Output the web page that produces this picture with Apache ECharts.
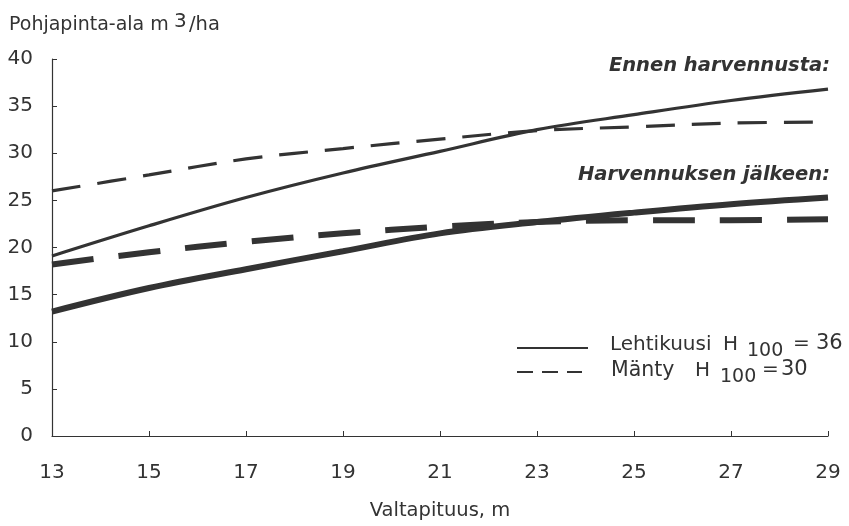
<!DOCTYPE html>
<html>
<head>
<meta charset="utf-8">
<style>
  html, body { margin: 0; padding: 0; background: #fff; }
  #chart { width: 849px; height: 526px; }
</style>
<script src="https://cdn.jsdelivr.net/npm/echarts@6/dist/echarts.min.js"></script>
</head>
<body>
<div id="chart"></div>
<script>
// Dominant height (m) on the x axis
const heights = [13, 15, 17, 19, 21, 23, 25, 27, 29];

// Basal area before thinning
const larchBefore = [19.1, 22.3, 25.3, 27.9, 30.2, 32.5, 34.1, 35.6, 36.8];
const pineBefore  = [26.0, 27.7, 29.4, 30.5, 31.5, 32.4, 32.8, 33.2, 33.3];

// Basal area after thinning
const larchAfter = [13.2, 15.7, 17.7, 19.6, 21.5, 22.7, 23.7, 24.6, 25.3];
const pineAfter  = [18.2, 19.5, 20.6, 21.5, 22.2, 22.7, 22.9, 22.9, 23.0];

const yTicks = [0, 5, 10, 15, 20, 25, 30, 35, 40];

const ink = '#333';
const fontFamily = '"DejaVu Sans", Verdana, sans-serif';

function pairs(ys) {
  return heights.map((x, i) => [x, ys[i]]);
}

function line(name, ys, width, dash) {
  return {
    name: name,
    type: 'line',
    data: pairs(ys),
    smooth: 0.35,
    symbol: 'none',
    lineStyle: {
      color: ink,
      width: width,
      type: dash ? dash : 'solid',
      cap: 'butt'
    },
    z: 3
  };
}

// Text placed by its left (or right) edge and vertical centre
function label(text, x, y, size, extra) {
  return {
    type: 'text',
    x: x,
    y: y,
    style: Object.assign({
      text: text,
      fill: ink,
      fontFamily: fontFamily,
      fontSize: size,
      align: 'left',
      verticalAlign: 'middle'
    }, extra || {})
  };
}

const chart = echarts.init(document.getElementById('chart'), null, { renderer: 'canvas' });

const heading = { fontWeight: 'bold', fontStyle: 'italic', align: 'right' };

chart.setOption({
  backgroundColor: '#fff',
  animation: false,
  grid: { left: 52, right: 21, top: 59, bottom: 88, containLabel: false },
  xAxis: {
    type: 'value',
    min: 13,
    max: 29,
    interval: 2,
    name: 'Valtapituus, m',
    nameLocation: 'middle',
    nameGap: 65,
    nameTextStyle: { color: ink, fontSize: 19.5, fontFamily: fontFamily },
    axisLine: { show: true, lineStyle: { color: ink, width: 1.2 } },
    axisTick: { show: true, inside: true, length: 5, lineStyle: { color: ink } },
    axisLabel: { color: ink, fontSize: 20, fontFamily: fontFamily, margin: 27 },
    splitLine: { show: false }
  },
  yAxis: {
    type: 'value',
    min: yTicks[0],
    max: yTicks[yTicks.length - 1],
    interval: 5,
    axisLine: { show: true, lineStyle: { color: ink, width: 1.2 } },
    axisTick: { show: true, inside: true, length: 5, lineStyle: { color: ink } },
    axisLabel: { color: ink, fontSize: 20, fontFamily: fontFamily, margin: 19 },
    splitLine: { show: false }
  },
  series: [
    line('Lehtikuusi ennen', larchBefore, 3.2),
    line('Mänty ennen', pineBefore, 3.2, [29, 17]),
    line('Lehtikuusi jälkeen', larchAfter, 6),
    line('Mänty jälkeen', pineAfter, 6, [42, 25])
  ],
  graphic: [
    // y-axis title with superscript
    label('Pohjapinta-ala m', 9, 25, 19),
    label('3', 174, 22, 20),
    label('/ha', 189, 25, 19.5),

    // group headings
    label('Ennen harvennusta:', 830, 66, 19.5, heading),
    label('Harvennuksen jälkeen:', 830, 175, 19.5, heading),

    // legend keys
    { type: 'line', shape: { x1: 517, y1: 348, x2: 588, y2: 348 }, style: { stroke: ink, lineWidth: 2.2 } },
    { type: 'line', shape: { x1: 517, y1: 372, x2: 582, y2: 372 }, style: { stroke: ink, lineWidth: 2.2, lineDash: [16, 9] } },

    // legend labels
    label('Lehtikuusi', 610, 345, 20),
    label('H', 723, 345, 20),
    label('100', 747, 351, 19),
    label('=', 793, 344, 20),
    label('36', 816, 344, 21),

    label('Mänty', 611, 371, 20.5),
    label('H', 695, 371, 20),
    label('100', 720, 377, 19),
    label('=', 762, 370, 20),
    label('30', 781, 370, 21)
  ]
});
</script>
</body>
</html>
